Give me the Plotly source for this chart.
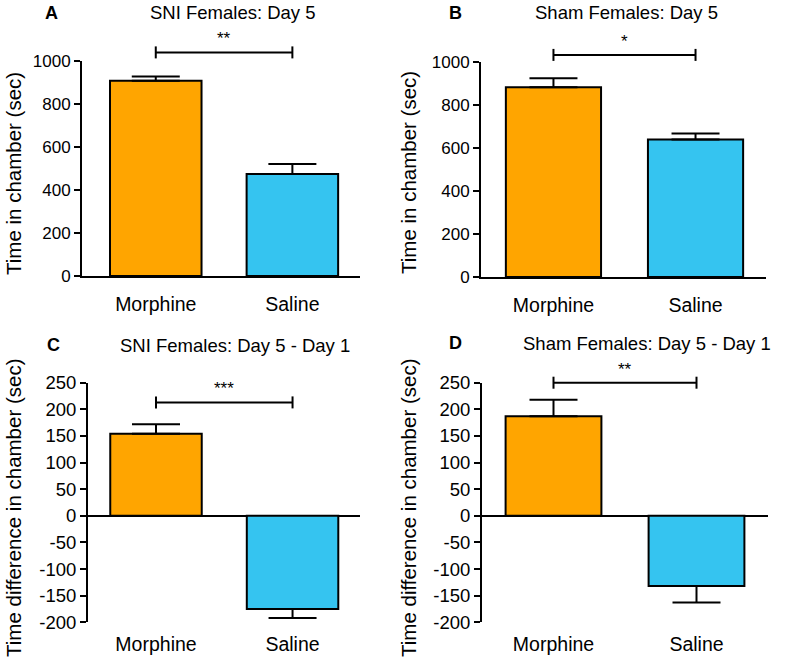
import plotly.graph_objects as go

# ---------------- data ----------------
categories = ["Morphine", "Saline"]

a_values = [908, 474]
a_errors = [20, 47]
b_values = [882, 640]
b_errors = [43, 28]
c_values = [154, -175]
c_errors = [18, 17]
d_values = [187, -132]
d_errors = [31, 31]

titles = ["SNI Females: Day 5", "Sham Females: Day 5",
          "SNI Females: Day 5 - Day 1", "Sham Females: Day 5 - Day 1"]
letters = ["A", "B", "C", "D"]
stars = ["**", "*", "***", "**"]
sig_levels = [1040, 1033, 213, 250]

ytick_top = [0, 200, 400, 600, 800, 1000]
ytick_bottom = [-200, -150, -100, -50, 0, 50, 100, 150, 200, 250]

# ---------------- layout constants ----------------
W, H = 786, 660
ORANGE = "#FFA500"
BLUE = "#35C4F0"
FONT = "Liberation Sans, Arial, Helvetica, sans-serif"


def px_x(p):
    return p / W


def px_y(p):
    return 1 - p / H


panels = [
    dict(vals=a_values, errs=a_errors, xd=[82, 360], yd=[276, 61], xr=[-0.54, 1.495],
         yr=[0, 1000], ticks=ytick_top, ytf=17, ylab="Time in chamber (sec)",
         title_xy=(233, 13), letter_xy=(52, 13), ylab_xy=(13, 174), lab_shift=10, zero=False),
    dict(vals=b_values, errs=b_errors, xd=[481, 766], yd=[277, 62], xr=[-0.51, 1.496],
         yr=[0, 1000], ticks=ytick_top, ytf=17, ylab="Time in chamber (sec)",
         title_xy=(626, 13), letter_xy=(455, 13), ylab_xy=(408, 173), lab_shift=10, zero=False),
    dict(vals=c_values, errs=c_errors, xd=[88, 360], yd=[622.3, 382.7], xr=[-0.498, 1.494],
         yr=[-200, 250], ticks=ytick_bottom, ytf=18.5, ylab="Time difference in chamber (sec)",
         title_xy=(235, 345), letter_xy=(53, 345), ylab_xy=(13, 508), lab_shift=4, zero=True),
    dict(vals=d_values, errs=d_errors, xd=[482, 768], yd=[622.3, 382.7], xr=[-0.5, 1.5],
         yr=[-200, 250], ticks=ytick_bottom, ytf=18.5, ylab="Time difference in chamber (sec)",
         title_xy=(647, 343), letter_xy=(455, 343), ylab_xy=(408, 508), lab_shift=4, zero=True),
]

fig = go.Figure()
shapes = []
annotations = []

for i, p in enumerate(panels):
    n = "" if i == 0 else str(i + 1)
    xa, ya = "x" + n, "y" + n
    vals, errs = p["vals"], p["errs"]
    up = [e if v >= 0 else 0 for v, e in zip(vals, errs)]
    down = [e if v < 0 else 0 for v, e in zip(vals, errs)]
    fig.add_trace(go.Bar(
        x=categories, y=vals, xaxis=xa, yaxis=ya, width=0.67,
        marker=dict(color=[ORANGE, BLUE], line=dict(color="black", width=2)),
        error_y=dict(type="data", symmetric=False, array=up, arrayminus=down,
                     color="black", thickness=2, width=24),
        showlegend=False, hoverinfo="x+y",
    ))

    xdom = [px_x(p["xd"][0]), px_x(p["xd"][1])]
    ydom = [px_y(p["yd"][0]), px_y(p["yd"][1])]
    fig.layout["xaxis" + n] = dict(
        domain=xdom, anchor=ya, range=p["xr"], type="category", automargin=False,
        showline=not p["zero"], linecolor="black", linewidth=2, mirror=False,
        showgrid=False, zeroline=False,
        ticks="outside", ticklen=p["lab_shift"], tickcolor="rgba(0,0,0,0)",
        tickfont=dict(family=FONT, size=19.5, color="black"), fixedrange=True,
    )
    fig.layout["yaxis" + n] = dict(
        domain=ydom, anchor=xa, range=p["yr"], automargin=False,
        tickmode="array", tickvals=p["ticks"], ticktext=[str(t) for t in p["ticks"]],
        showline=True, linecolor="black", linewidth=2,
        ticks="outside", ticklen=6, tickwidth=2, tickcolor="black",
        showgrid=False, zeroline=p["zero"], zerolinecolor="black", zerolinewidth=2,
        tickfont=dict(family=FONT, size=p["ytf"], color="black"), fixedrange=True,
    )

    # significance bracket (domain coordinates derived from the data ranges)
    r0, r1 = p["xr"]
    y0, y1 = p["yr"]
    hpx = abs(p["yd"][0] - p["yd"][1])
    xl = (0 - r0) / (r1 - r0)
    xr_ = (1 - r0) / (r1 - r0)
    yb = (sig_levels[i] - y0) / (y1 - y0)
    tk = 6 / hpx
    dref = dict(xref=xa + " domain", yref=ya + " domain",
                line=dict(color="black", width=2))
    shapes.append(dict(type="line", x0=xl, x1=xr_, y0=yb, y1=yb, **dref))
    shapes.append(dict(type="line", x0=xl, x1=xl, y0=yb - tk, y1=yb + tk, **dref))
    shapes.append(dict(type="line", x0=xr_, x1=xr_, y0=yb - tk, y1=yb + tk, **dref))
    annotations.append(dict(
        text=stars[i], x=(xl + xr_) / 2, y=yb, xref=xa + " domain", yref=ya + " domain",
        xanchor="center", yanchor="bottom", yshift=2, showarrow=False,
        font=dict(family=FONT, size=17, color="black"),
    ))

    # title, letter, y label
    tx, ty = p["title_xy"]
    annotations.append(dict(text=titles[i], x=px_x(tx), y=px_y(ty), xref="paper", yref="paper",
                            xanchor="center", yanchor="middle", showarrow=False,
                            font=dict(family=FONT, size=18.5, color="black")))
    lx, ly = p["letter_xy"]
    annotations.append(dict(text="<b>" + letters[i] + "</b>", x=px_x(lx), y=px_y(ly),
                            xref="paper", yref="paper", xanchor="center", yanchor="middle",
                            showarrow=False, font=dict(family=FONT, size=18, color="black")))
    yx, yy = p["ylab_xy"]
    annotations.append(dict(text=p["ylab"], x=px_x(yx), y=px_y(yy), xref="paper", yref="paper",
                            xanchor="center", yanchor="middle", textangle=-90, showarrow=False,
                            font=dict(family=FONT, size=20.5, color="black")))

fig.update_layout(
    width=W, height=H, margin=dict(l=0, r=0, t=0, b=0, autoexpand=False),
    paper_bgcolor="white", plot_bgcolor="white",
    shapes=shapes, annotations=annotations,
    font=dict(family=FONT, color="black"),
)

fig.write_html("out.html", config={"displayModeBar": False},
               post_script="document.body.style.margin='0px';")
